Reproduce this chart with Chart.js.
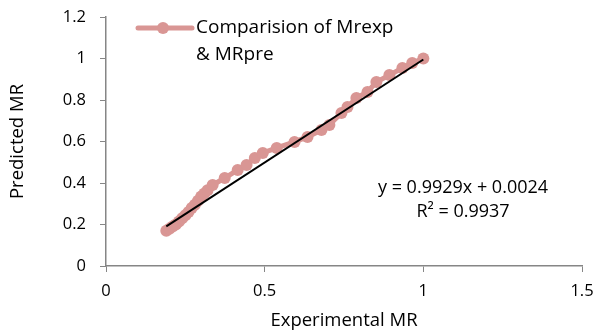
<!DOCTYPE html>
<html><head><meta charset="utf-8">
<script src="https://cdn.jsdelivr.net/npm/chart.js@4/dist/chart.umd.min.js"></script>
<style>html,body{margin:0;padding:0;background:#fff}#w{width:593px;height:332px}</style>
</head><body><div id="w"><canvas id="c" width="593" height="332"></canvas></div>
<script>
const experimentalMR = [0.19,0.20,0.21,0.22,0.23,0.24,0.25,0.26,0.27,0.28,0.29,0.30,0.31,0.32,0.336,0.374,0.415,0.443,0.469,0.494,0.538,0.594,0.635,0.679,0.704,0.742,0.761,0.789,0.824,0.852,0.893,0.934,0.965,1.0];
const predictedMR    = [0.17,0.18,0.19,0.20,0.215,0.23,0.245,0.26,0.28,0.295,0.315,0.335,0.35,0.365,0.39,0.424,0.463,0.487,0.52,0.545,0.569,0.598,0.622,0.655,0.68,0.737,0.766,0.81,0.839,0.887,0.92,0.954,0.978,1.0];
const trendSlope = 0.9929, trendIntercept = 0.0024;
const legendLines = ["Comparision of Mrexp", "& MRpre"];
const equationLines = ["y = 0.9929x + 0.0024", "R\u00b2 = 0.9937"];
const xTitle = "Experimental MR", yTitle = "Predicted MR";

const FONT = "'Open Sans', sans-serif";
const pink = '#D99694';
const pts = experimentalMR.map((x,i)=>({x, y: predictedMR[i]}));
const xmin = Math.min(...experimentalMR), xmax = Math.max(...experimentalMR);
const trend = [{x:xmin, y:trendSlope*xmin+trendIntercept},{x:xmax, y:trendSlope*xmax+trendIntercept}];

const annot = {
  id:'annot',
  afterDraw(chart){
    const ctx = chart.ctx;
    ctx.save();
    ctx.strokeStyle = pink; ctx.lineWidth = 5; ctx.lineCap='round';
    ctx.beginPath(); ctx.moveTo(138,28); ctx.lineTo(192,28); ctx.stroke();
    ctx.fillStyle = pink; ctx.beginPath(); ctx.arc(163,28,6,0,Math.PI*2); ctx.fill();
    ctx.fillStyle = '#000'; ctx.font = '19px '+FONT; ctx.textBaseline='middle'; ctx.textAlign='left';
    ctx.fillText(legendLines[0], 196, 28);
    ctx.fillText(legendLines[1], 196, 55);
    ctx.font = '18px '+FONT; ctx.textAlign='center';
    ctx.fillText(equationLines[0], 463, 188);
    ctx.fillText(equationLines[1], 463, 212);
    ctx.restore();
  }
};
const fmt = v => String(+v.toFixed(2));

new Chart(document.getElementById('c'), {
  type:'scatter',
  data:{datasets:[
    {data:pts, showLine:true, borderColor:pink, backgroundColor:pink, borderWidth:5, pointRadius:6, pointHoverRadius:6, pointBorderWidth:0, tension:0, order:2},
    {data:trend, showLine:true, borderColor:'#000', borderWidth:2, pointRadius:0, order:1}
  ]},
  options:{
    responsive:false, animation:false, events:[],
    layout:{padding:{top:17,right:11,left:0,bottom:0}},
    plugins:{legend:{display:false}, tooltip:{enabled:false}},
    scales:{
      x:{type:'linear', min:0, max:1.5,
        ticks:{stepSize:0.5, color:'#000', font:{family:FONT,size:16.5}, padding:9, callback:fmt},
        grid:{drawOnChartArea:false, drawTicks:true, tickLength:6, color:'#868686'},
        border:{color:'#868686', width:1.5},
        title:{display:true, text:xTitle, color:'#000', font:{family:FONT,size:18.5}, padding:{top:0,bottom:0}},
        afterFit(s){ s.height = 66; s.paddingLeft = 0; s.paddingRight = 0; }
      },
      y:{type:'linear', min:0, max:1.2,
        ticks:{stepSize:0.2, color:'#000', font:{family:FONT,size:16.5}, padding:14, callback:fmt},
        grid:{drawOnChartArea:false, drawTicks:true, tickLength:6, color:'#868686'},
        border:{color:'#868686', width:1.5},
        title:{display:true, text:yTitle, color:'#000', font:{family:FONT,size:18.5}, padding:{top:7,bottom:0}},
        afterFit(s){ s.width = 106; s.paddingTop = 0; s.paddingBottom = 0; }
      }
    }
  },
  plugins:[annot]
});
</script></body></html>
